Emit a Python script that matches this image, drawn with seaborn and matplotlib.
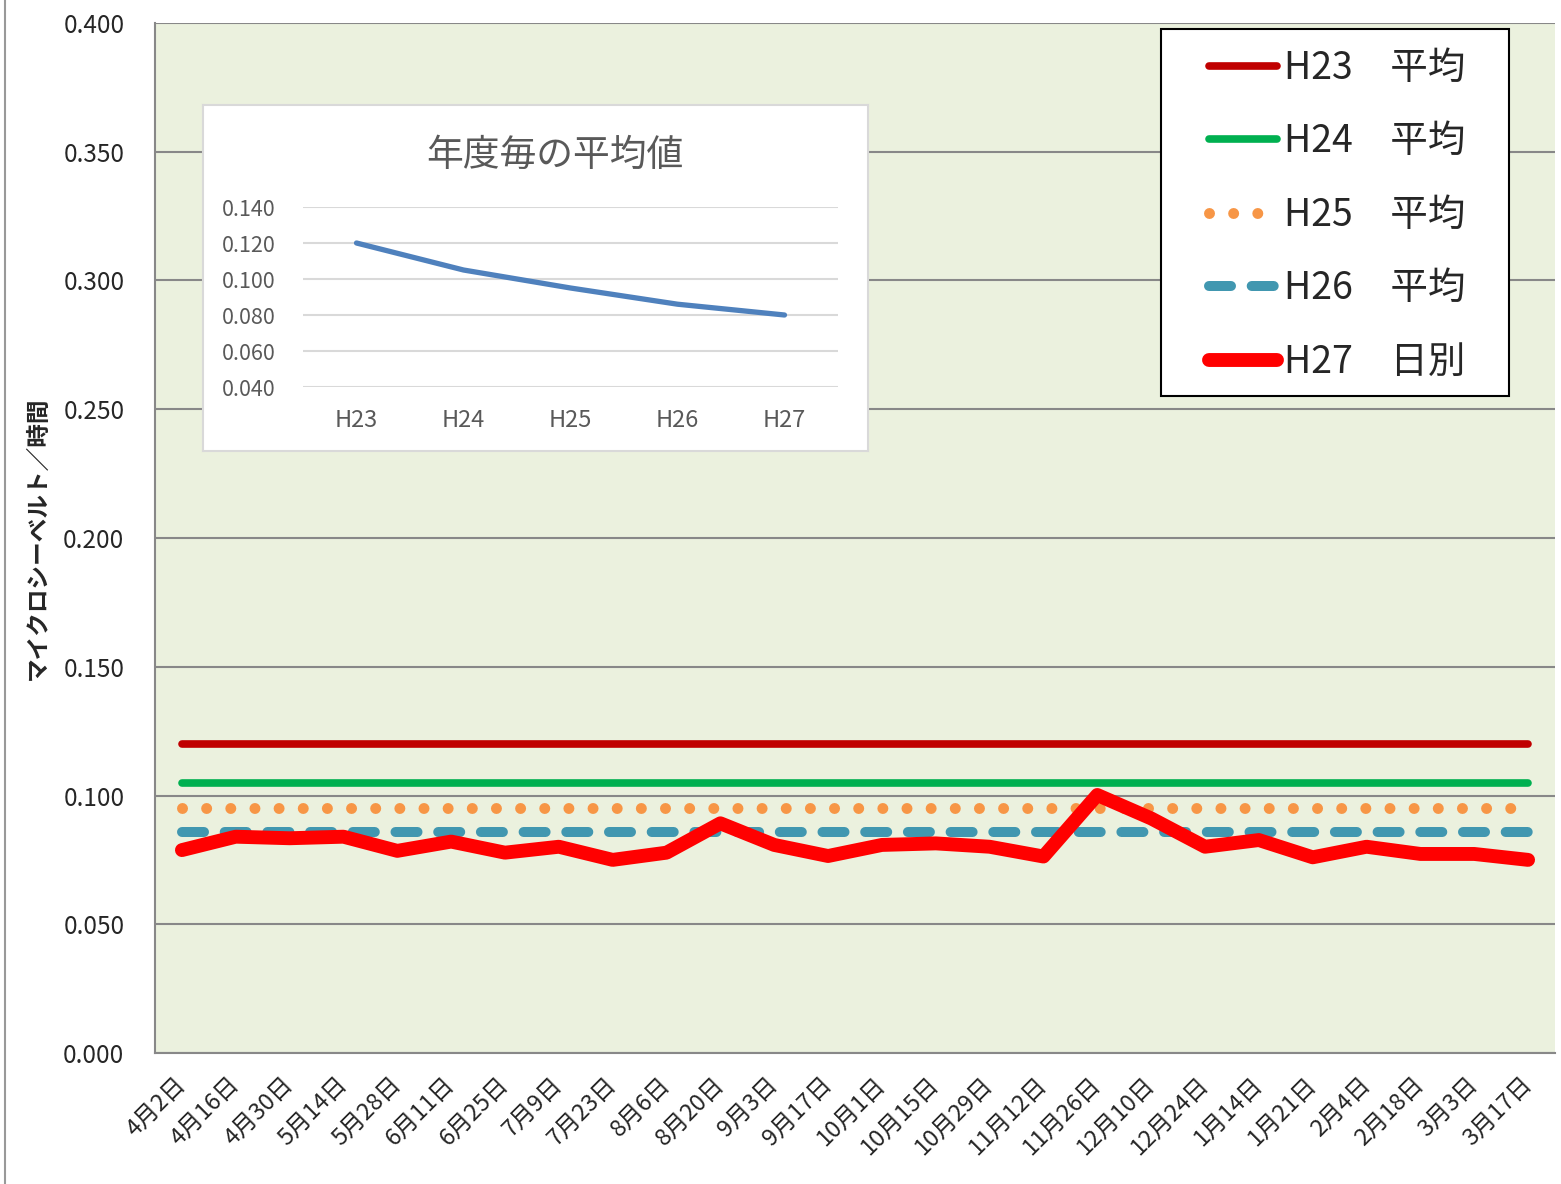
import numpy as np
import pandas as pd
import matplotlib
matplotlib.use("Agg")
import matplotlib.pyplot as plt
import seaborn as sns
from matplotlib.lines import Line2D
from matplotlib.patches import Rectangle

################################################
#                 Data
################################################
dates = ["4月2日", "4月16日", "4月30日", "5月14日", "5月28日", "6月11日", "6月25日",
         "7月9日", "7月23日", "8月6日", "8月20日", "9月3日", "9月17日", "10月1日",
         "10月15日", "10月29日", "11月12日", "11月26日", "12月10日", "12月24日",
         "1月14日", "1月21日", "2月4日", "2月18日", "3月3日", "3月17日"]

h27_daily = [0.0788, 0.0840, 0.0834, 0.0840, 0.0785, 0.0821, 0.0778,
             0.0801, 0.0750, 0.0778, 0.0892, 0.0808, 0.0765, 0.0808,
             0.0814, 0.0801, 0.0763, 0.1002, 0.0911, 0.0801,
             0.0827, 0.0760, 0.0801, 0.0773, 0.0773, 0.0750]

years = ["H23", "H24", "H25", "H26", "H27"]
year_means = [0.120, 0.105, 0.095, 0.086, 0.080]

labels = ["H23\u3000平均", "H24\u3000平均", "H25\u3000平均", "H26\u3000平均", "H27\u3000日別"]
colors = ["#C00000", "#00B050", "#F79646", "#4197B0", "#FF0000"]

################################################
#                 Style
################################################
sns.set_style("white")
plt.rcParams['font.family'] = ['Noto Sans CJK JP', 'DejaVu Sans']

W, H = 1561, 1184
fig = plt.figure(figsize=(W / 100, H / 100), dpi=100)
ax = fig.add_axes([155 / W, 1 - 1053 / H, 1400 / W, 1030 / H])
ax.set_facecolor("#EBF1DE")

x = np.arange(len(dates))
df = pd.DataFrame({"x": x, "h27": h27_daily})
for yr, m in zip(years[:4], year_means[:4]):
    df[yr] = m

# averages (constant series) + daily values
sns.lineplot(data=df, x="x", y="H23", ax=ax, color=colors[0], lw=5.5,
             solid_capstyle="round", label=labels[0])
sns.lineplot(data=df, x="x", y="H24", ax=ax, color=colors[1], lw=5.5,
             solid_capstyle="round", label=labels[1])
sns.lineplot(data=df, x="x", y="H25", ax=ax, color=colors[2], lw=7.9,
             dash_capstyle="round", dashes=(0.001, 2.2), label=labels[2])
sns.lineplot(data=df, x="x", y="H26", ax=ax, color=colors[3], lw=7.2,
             dash_capstyle="round", dashes=(2.2, 2.07), label=labels[3])
sns.lineplot(data=df, x="x", y="h27", ax=ax, color=colors[4], lw=10,
             solid_capstyle="round", solid_joinstyle="round", label=labels[4])

ax.set_xlim(-0.5, len(dates) - 0.5)
ax.set_ylim(0, 0.4)
ax.set_yticks(np.arange(0, 0.401, 0.05))
ax.set_yticklabels([f"{v:.3f}" for v in np.arange(0, 0.401, 0.05)], fontsize=17.5)
ax.set_xticks(x)
ax.set_xticklabels(dates, fontsize=17, rotation=45, ha="right", va="center",
                   rotation_mode="anchor")
ax.tick_params(axis="y", length=0, pad=22)
ax.tick_params(axis="x", length=0, pad=20)
ax.grid(axis="y", color="#888888", lw=1.5)
ax.set_axisbelow(True)
for s in ["top", "right"]:
    ax.spines[s].set_visible(False)
for s in ["left", "bottom"]:
    ax.spines[s].set_color("#888888")
    ax.spines[s].set_linewidth(1.5)
ax.set_xlabel("")
ax.set_ylabel("マイクロシーベルト／時間", fontsize=17, fontweight="bold")
ax.yaxis.set_label_coords(-0.075, 0.5)

# legend with its own box
leg = ax.legend(loc="upper left", bbox_to_anchor=(0.753, 0.975), frameon=False,
                fontsize=27, handlelength=1.8, handletextpad=0.2,
                labelspacing=0.92, borderpad=0, borderaxespad=0)
ax.add_patch(Rectangle((0.7186, 0.6379), 0.2484, 0.3563, transform=ax.transAxes,
                       facecolor="white", edgecolor="black", lw=1.5, zorder=4))
leg.set_zorder(5)

# left border of the chart area
fig.add_artist(Line2D([5 / W, 5 / W], [0, 1], color="#999999", lw=1.5))

################################################
#           Inset: yearly averages
################################################
box = fig.add_axes([203 / W, 1 - 451 / H, 665 / W, 346 / H])
box.set_facecolor("white")
box.set_xticks([])
box.set_yticks([])
for s in box.spines.values():
    s.set_color("#D9D9D9")
    s.set_linewidth(1.5)

ins = fig.add_axes([303 / W, 1 - 387 / H, 535 / W, 180 / H])
ins.set_facecolor("none")
sns.lineplot(x=np.arange(len(years)), y=year_means, ax=ins, color="#4F81BD", lw=3.8,
             solid_capstyle="round")
ins.set_xlim(-0.5, len(years) - 0.5)
ins.set_ylim(0.04, 0.14)
ins.set_yticks(np.arange(0.04, 0.141, 0.02))
ins.set_yticklabels([f"{v:.3f}" for v in np.arange(0.04, 0.141, 0.02)],
                    fontsize=15.5, color="#595959")
ins.set_xticks(np.arange(len(years)))
ins.set_xticklabels(years, fontsize=17, color="#595959")
ins.tick_params(axis="y", length=0, pad=20)
ins.tick_params(axis="x", length=0, pad=16)
ins.grid(axis="y", color="#D9D9D9", lw=1.5)
ins.set_axisbelow(True)
for s in ins.spines.values():
    s.set_visible(False)
fig.text(555 / W, 1 - 155 / H, "年度毎の平均値", fontsize=26.5, color="#595959",
         ha="center", va="center")

plt.savefig("out.png", dpi=100)
plt.close()
